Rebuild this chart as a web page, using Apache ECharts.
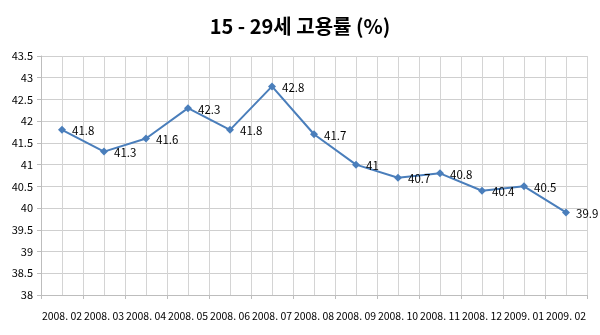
<!DOCTYPE html>
<html><head><meta charset="utf-8">
<script src="https://cdn.jsdelivr.net/npm/echarts@6/dist/echarts.min.js"></script>
<style>html,body{margin:0;padding:0;background:#fff}#c{width:600px;height:335px}</style>
</head><body><div id="c"></div>
<script>
const categories = ['2008. 02','2008. 03','2008. 04','2008. 05','2008. 06','2008. 07','2008. 08','2008. 09','2008. 10','2008. 11','2008. 12','2009. 01','2009. 02'];
const rates = [41.8, 41.3, 41.6, 42.3, 41.8, 42.8, 41.7, 41, 40.7, 40.8, 40.4, 40.5, 39.9];
const titleText = '15 - 29세 고용률 (%)';
const font = '"Noto Sans CJK KR", "Noto Sans", sans-serif';

const chart = echarts.init(document.getElementById('c'));
chart.setOption({
  animation: false,
  title: { text: titleText, left: 'center', top: 11, textStyle: { fontFamily: font, fontSize: 20, fontWeight: 'bold', color: '#000' } },
  grid: { left: 41, right: 13, top: 56, bottom: 40 },
  xAxis: [
    { type: 'category', data: categories, boundaryGap: true,
      axisLine: { lineStyle: { color: '#bdbdbd' } },
      axisTick: { show: true, length: 4, lineStyle: { color: '#bdbdbd' } },
      axisLabel: { fontFamily: font, fontSize: 10.5, color: '#000', margin: 16, interval: 0 },
      splitLine: { show: false } },
    { type: 'value', min: 0, max: 26, interval: 1, position: 'bottom',
      axisLine: { show: false }, axisTick: { show: false }, axisLabel: { show: false },
      splitLine: { show: true, lineStyle: { color: '#d4d4d4', width: 1 } } }
  ],
  yAxis: { type: 'value', min: 38, max: 43.5, interval: 0.5,
    axisLine: { show: true, lineStyle: { color: '#bdbdbd' } },
    axisTick: { show: true, length: 4, lineStyle: { color: '#bdbdbd' } },
    axisLabel: { fontFamily: font, fontSize: 11, color: '#000', margin: 8 },
    splitLine: { show: true, lineStyle: { color: '#cfcfcf' } } },
  series: [{
    type: 'line', data: rates, xAxisIndex: 0,
    symbol: 'diamond', symbolSize: 8,
    lineStyle: { color: '#4A7EBB', width: 2 },
    itemStyle: { color: '#4A7EBB' },
    label: { show: true, position: 'right', distance: 6, offset: [0, 1], fontFamily: font, fontSize: 11.5, color: '#000' }
  }]
});
</script></body></html>
